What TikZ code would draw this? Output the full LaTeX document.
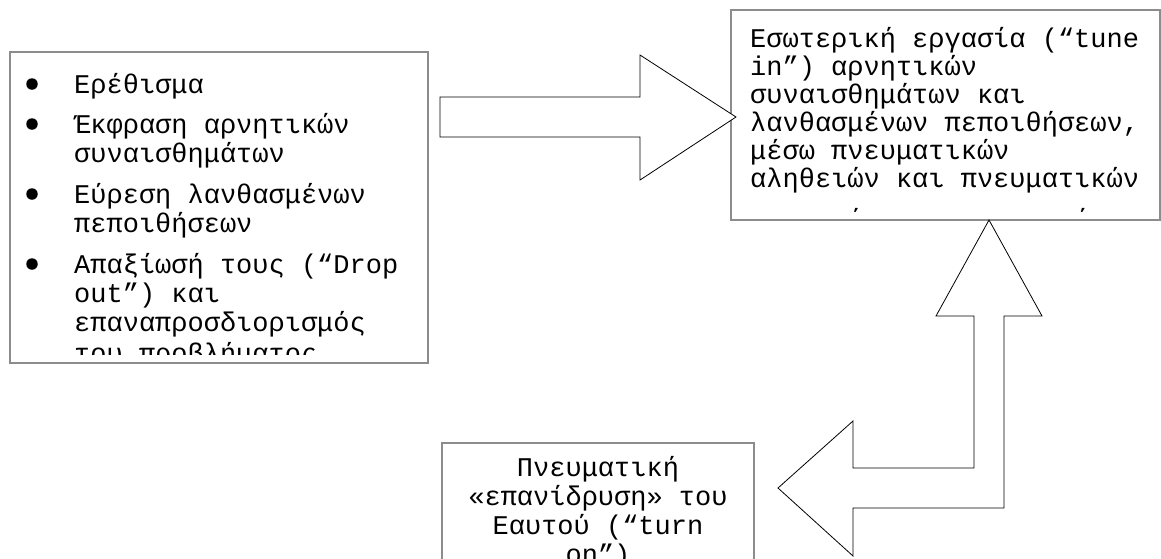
\documentclass[tikz,border=0pt]{standalone}
\usepackage{fontspec}
\newfontfamily\cour{Liberation Mono}
\begin{document}
\begin{tikzpicture}[x=1pt,y=-1pt,
  box/.style={draw=black!45, line width=1.4pt},
  blockarrow/.style={draw=black, line width=0.8pt, fill=white, line join=miter},
  txt/.style={font=\cour\fontsize{27}{29}\selectfont, inner sep=0pt, anchor=base west},
  ctxt/.style={font=\cour\fontsize{27}{29}\selectfont, inner sep=0pt, anchor=base},
  dot/.style={circle, fill=black, inner sep=0pt, minimum size=11.5pt}]
\useasboundingbox (0,0) rectangle (1161,558);

% ---------- left box ----------
\draw[box] (10,52) rectangle (428,363);
\begin{scope}
\clip (11,53) rectangle (427,354);
\node[dot] (b1) at (32,84) {};
\node[dot] (b2) at (32,124) {};
\node[dot] (b3) at (32,194) {};
\node[dot] (b4) at (32,264) {};
\node[txt] (l1) at (74,93) {Ερέθισμα};
\node[txt] (l2) at (74,133) {Έκφραση αρνητικών};
\node[txt] (l3) at (74,162) {συναισθημάτων};
\node[txt] (l4) at (74,203) {Εύρεση λανθασμένων};
\node[txt] (l5) at (74,232) {πεποιθήσεων};
\node[txt] (l6) at (74,273) {Απαξίωσή τους (“Drop};
\node[txt] (l7) at (74,302) {out”) και};
\node[txt] (l8) at (74,331) {επαναπροσδιορισμός};
\node[txt] (l9) at (74,362) {του προβλήματος};
\end{scope}

% ---------- right box ----------
\draw[box] (731,10) rectangle (1160,220);
\begin{scope}
\clip (732,11) rectangle (1159,211);
\node[txt] (r1) at (750,47) {Εσωτερική εργασία (“tune};
\node[txt] (r2) at (750,75) {in”) αρνητικών};
\node[txt] (r3) at (750,103) {συναισθημάτων και};
\node[txt] (r4) at (750,131) {λανθασμένων πεποιθήσεων,};
\node[txt] (r5) at (750,159) {μέσω πνευματικών};
\node[txt] (r6) at (750,187) {αληθειών και πνευματικών};
\node[txt] (r7) at (750,228) {τεχνικών και πρακτικών};
\end{scope}

% ---------- bottom box ----------
\draw[box] (442,570) -- (442,443) -- (754,443) -- (754,570);
\begin{scope}
\clip (443,444) rectangle (753,558);
\node[ctxt] (c1) at (598,476) {Πνευματική};
\node[ctxt] (c2) at (598,505) {«επανίδρυση» του};
\node[ctxt] (c3) at (598,534) {Εαυτού (“turn};
\node[ctxt] (c4) at (598,563) {on”)};
\end{scope}

% ---------- block arrows ----------
\draw[blockarrow] (440,97) -- (640,97) -- (640,55) -- (736,117)
  -- (640,180) -- (640,137) -- (440,137) -- cycle;

\draw[blockarrow] (989,220) -- (1042,316) -- (1004,316) -- (1004,508)
  -- (853,508) -- (853,556) -- (778,488) -- (853,421) -- (853,468)
  -- (974,468) -- (974,316) -- (936,316) -- cycle;
\end{tikzpicture}
\end{document}
